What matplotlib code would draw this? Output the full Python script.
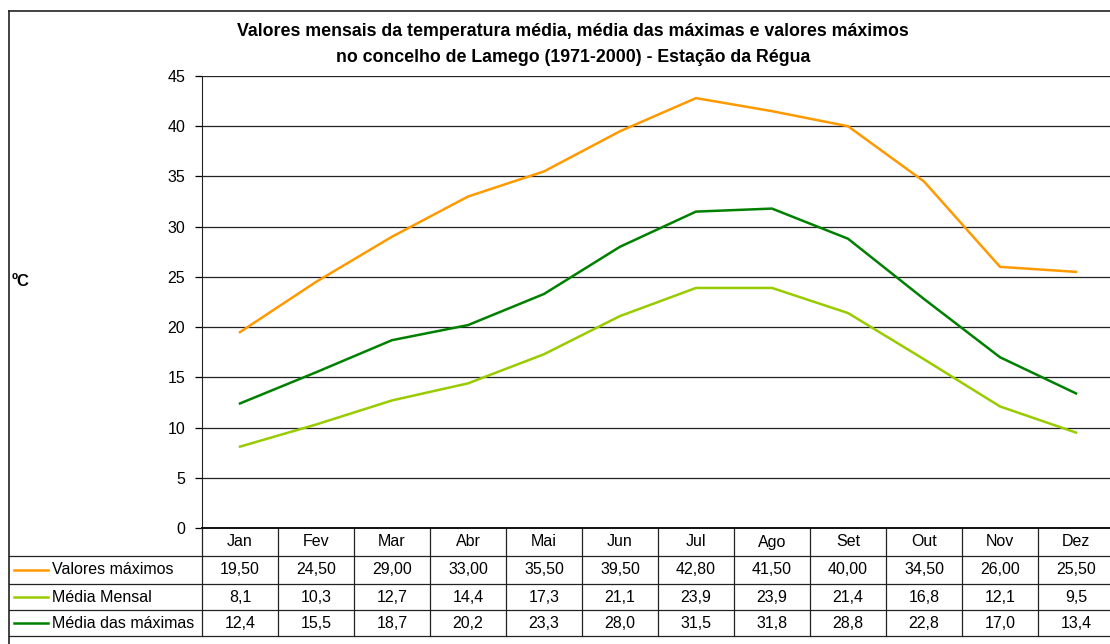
import matplotlib.pyplot as plt
from matplotlib.lines import Line2D

plt.rcParams['font.family'] = ['Liberation Sans', 'DejaVu Sans']

# dados (1971-2000), estação da Régua
meses = ['Jan', 'Fev', 'Mar', 'Abr', 'Mai', 'Jun', 'Jul', 'Ago', 'Set', 'Out', 'Nov', 'Dez']
valores_maximos = [19.5, 24.5, 29.0, 33.0, 35.5, 39.5, 42.8, 41.5, 40.0, 34.5, 26.0, 25.5]
media_mensal = [8.1, 10.3, 12.7, 14.4, 17.3, 21.1, 23.9, 23.9, 21.4, 16.8, 12.1, 9.5]
media_maximas = [12.4, 15.5, 18.7, 20.2, 23.3, 28.0, 31.5, 31.8, 28.8, 22.8, 17.0, 13.4]

series = [
    ('Valores máximos', valores_maximos, '#FF9900', 2),
    ('Média Mensal', media_mensal, '#99CC00', 1),
    ('Média das máximas', media_maximas, '#008000', 1),
]

W, H = 1110, 644
fs = 11.5
fig = plt.figure(figsize=(W / 100, H / 100), dpi=100)
fig.patch.set_facecolor('white')

# eixo: de 202 a 1114 px em x, de 76 a 528 px em y
ax = fig.add_axes([202 / W, (H - 528) / H, 912 / W, 452 / H])
x = list(range(len(meses)))
for nome, vals, cor, dec in series:
    ax.plot(x, vals, color=cor, lw=1.8, solid_joinstyle='round')

ax.set_xlim(-0.5, len(meses) - 0.5)
ax.set_ylim(0, 45)
ax.set_yticks(range(0, 46, 5))
ax.yaxis.grid(True, color='#222222', lw=0.9)
ax.set_axisbelow(True)
ax.set_xticks([])
ax.tick_params(axis='y', direction='out', length=5, width=0.9, labelsize=fs, pad=7)
for s in ['top', 'right']:
    ax.spines[s].set_visible(False)
ax.spines['left'].set_color('#222222')
ax.spines['bottom'].set_color('#111111')
ax.spines['bottom'].set_linewidth(1.4)

# tabela de dados por baixo do eixo (coordenadas do eixo)
ah = 452.0
aw = 912.0
rows_px = [0, 28, 56, 82, 108]
ry = [-r / ah for r in rows_px]
left_x = (9 - 202) / aw
line_kw = dict(color='#222222', lw=0.9, clip_on=False, transform=ax.transAxes)

# linhas horizontais
for k in range(1, 5):
    ax.add_line(Line2D([left_x, 1.02], [ry[k], ry[k]], **line_kw))
# linhas verticais
for i in range(len(meses) + 1):
    xa = i / len(meses)
    ax.add_line(Line2D([xa, xa], [0, ry[4]], **line_kw))

# cabeçalho com os meses
for i, m in enumerate(meses):
    xa = (i + 0.5) / len(meses)
    ax.text(xa, (ry[0] + ry[1]) / 2, m, transform=ax.transAxes, ha='center', va='center',
            fontsize=fs, clip_on=False)

# linhas de valores com chave da legenda
for r, (nome, vals, cor, dec) in enumerate(series):
    yc = (ry[r + 1] + ry[r + 2]) / 2
    ax.add_line(Line2D([(14 - 202) / aw, (48 - 202) / aw], [yc, yc], color=cor, lw=1.8,
                       clip_on=False, transform=ax.transAxes))
    ax.text((52 - 202) / aw, yc, nome, transform=ax.transAxes, ha='left', va='center',
            fontsize=fs, clip_on=False)
    for i, v in enumerate(vals):
        xa = (i + 0.5) / len(meses)
        txt = f'{v:.{dec}f}'.replace('.', ',')
        ax.text(xa, yc, txt, transform=ax.transAxes, ha='center', va='center',
                fontsize=fs, clip_on=False)

# moldura exterior do gráfico
fig.add_artist(Line2D([9 / W, 9 / W], [0, (H - 11) / H], color='#222222', lw=1.2))
fig.add_artist(Line2D([9 / W, 1], [(H - 11) / H, (H - 11) / H], color='#222222', lw=1.2))

# títulos
fig.text(573 / W, (H - 31) / H, 'Valores mensais da temperatura média, média das máximas e valores máximos',
         ha='center', va='center', fontsize=12.8, fontweight='bold')
fig.text(573 / W, (H - 57) / H, 'no concelho de Lamego (1971-2000) - Estação da Régua',
         ha='center', va='center', fontsize=12.8, fontweight='bold')
fig.text(12 / W, (H - 282) / H, 'ºC', ha='left', va='center', fontsize=12, fontweight='bold')

fig.savefig('out.png', dpi=100)
